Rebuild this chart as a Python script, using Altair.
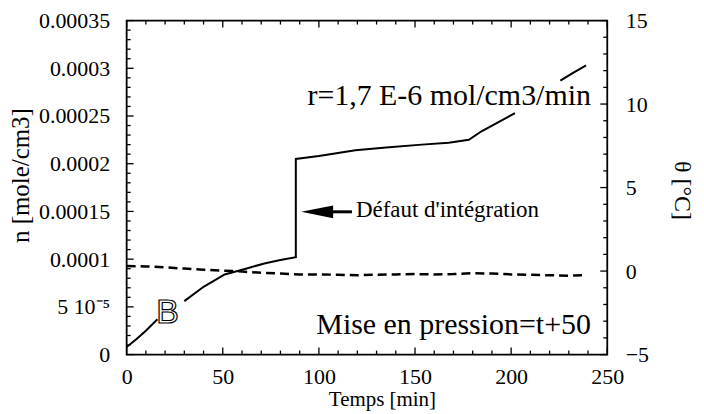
import altair as alt
import pandas as pd

# ---- data ----
# n [mole/cm3] vs time (solid curve); seg = visible pieces (gaps under "B" and the r= text)
n_t = [0, 5, 10, 16, 30, 40, 51, 62, 71.6, 80, 88, 88, 100, 119, 135, 153.5, 167.5, 178, 184.6, 192, 202, 225.6, 232, 239]
n_val = [8e-6, 1.6e-5, 2.5e-5, 3.7e-5, 5.6e-5, 7.1e-5, 8.4e-5, 9.0e-5, 9.55e-5, 9.9e-5, 1.02e-4, 2.05e-4,
         2.08e-4, 2.14e-4, 2.17e-4, 2.2e-4, 2.22e-4, 2.25e-4, 2.34e-4, 2.42e-4, 2.53e-4, 2.87e-4, 2.95e-4, 3.03e-4]
n_seg = [1, 1, 1, 1, 2, 2, 2, 2, 2, 2, 2, 2, 2, 2, 2, 2, 2, 2, 2, 2, 2, 3, 3, 3]

# temperature theta [°C] vs time (dashed curve)
th_t = [0, 10, 20, 30, 40, 50, 60, 70, 80, 90, 100, 110, 120, 130, 140, 150, 160, 170, 180, 190, 200, 210, 220, 230, 237]
th_val = [0.3, 0.28, 0.22, 0.15, 0.08, 0.03, -0.03, -0.1, -0.15, -0.2, -0.2, -0.22, -0.25, -0.22, -0.2, -0.18,
          -0.2, -0.18, -0.12, -0.15, -0.2, -0.22, -0.25, -0.28, -0.25]

# axes
x_major = [0, 50, 100, 150, 200, 250]
x_minor = [10, 20, 30, 40, 60, 70, 80, 90, 110, 120, 130, 140, 160, 170, 180, 190, 210, 220, 230, 240]
n_major = [0, 5e-5, 1e-4, 1.5e-4, 2e-4, 2.5e-4, 3e-4, 3.5e-4]
n_labels = ["0", "5 10\u207b\u2075", "0.0001", "0.00015", "0.0002", "0.00025", "0.0003", "0.00035"]
n_minor = [k * 1e-5 for k in range(36) if k % 5 != 0]
th_major = [-5, 0, 5, 10, 15]
th_minor = [k for k in range(-5, 16) if k % 5 != 0]

# annotations
rate_text = ["r=1,7 E-6 mol/cm3/min"]
rate_pos = [241.5, 2.61e-4]
press_text = ["Mise en pression=t+50"]
press_pos = [241.5, 2.18e-5]
defaut_text = ["D\u00e9faut d'int\u00e9gration"]
defaut_pos = [119.3, 1.444e-4]
arrow_head = [99.1, 1.496e-4]
arrow_shaft = [106.0, 117.2]
b_text = ["B"]
b_pos = [21.3, 4.57e-5]

W, H = 482, 335
FONT = "'Liberation Serif', 'Times New Roman', Times, serif"
TMAJ, TMIN = 7, 4

tscale = alt.Scale(domain=[0, 250], nice=False, zero=False)
nscale = alt.Scale(domain=[0, 0.00035], nice=False)
thscale = alt.Scale(domain=[-5, 15], nice=False)

def lbl_expr(vals, labels):
    expr = "''"
    for v, l in zip(vals, labels):
        expr = f"abs(datum.value - {v!r}) < 1e-9 ? '{l}' : ({expr})"
    return expr

AX_X = alt.Axis(
    values=x_major, ticks=False, domain=False, grid=False, labelFlush=False, labelOverlap=False,
    labelFont=FONT, labelFontSize=22, labelPadding=12, labelColor="black",
    title="Temps [min]", titleFont=FONT, titleFontSize=21, titleFontWeight="normal", titleColor="black",
    titleX=256, titleY=51, titleBaseline="alphabetic")
AX_N = alt.Axis(
    orient="left", values=n_major, ticks=False, domain=False, grid=False, labelOverlap=False,
    labelExpr=lbl_expr(n_major, n_labels),
    labelFont=FONT, labelFontSize=22, labelPadding=17, labelColor="black",
    title="n [mole/cm3]", titleFont=FONT, titleFontSize=25, titleFontWeight="normal", titleColor="black",
    titleX=-93, titleY=155)
AX_TH = alt.Axis(
    orient="right", values=th_major, ticks=False, domain=False, grid=False, labelOverlap=False,
    labelFont=FONT, labelFontSize=22, labelPadding=18, labelColor="black",
    title="\u03b8 [\u00b0C]", titleFont=FONT, titleFontSize=24, titleFontWeight="normal", titleColor="black",
    titleX=62, titleY=170)

ndf = pd.DataFrame({"t": n_t, "n": n_val, "seg": n_seg, "i": range(len(n_t))})
thdf = pd.DataFrame({"t": th_t, "th": th_val})

n_line = alt.Chart(ndf).mark_line(color="black", strokeWidth=2).encode(
    x=alt.X("t:Q", scale=tscale, axis=AX_X),
    y=alt.Y("n:Q", scale=nscale, axis=AX_N),
    detail="seg:N",
    order="i:Q",
)

def rules_y(vals, scale, ax, x0, x1):
    return alt.Chart(pd.DataFrame({"v": vals})).mark_rule(color="black", strokeWidth=1.3).encode(
        y=alt.Y("v:Q", scale=scale, axis=ax), x=alt.value(x0), x2=alt.value(x1))

def rules_x(vals, y0, y1):
    return alt.Chart(pd.DataFrame({"v": vals})).mark_rule(color="black", strokeWidth=1.3).encode(
        x=alt.X("v:Q", scale=tscale, axis=AX_X), y=alt.value(y0), y2=alt.value(y1))

def text_layer(txt, pos, size, align, font=FONT, **kw):
    df = pd.DataFrame({"label": txt, "t": [pos[0]], "n": [pos[1]]})
    return alt.Chart(df).mark_text(font=font, fontSize=size, align=align, baseline="alphabetic", **kw).encode(
        x=alt.X("t:Q", scale=tscale, axis=AX_X), y=alt.Y("n:Q", scale=nscale, axis=AX_N), text="label:N")

rate = text_layer(rate_text, rate_pos, 30, "right", color="black")
press = text_layer(press_text, press_pos, 30, "right", color="black")
defaut = text_layer(defaut_text, defaut_pos, 23, "left", color="black")
bmark = text_layer(b_text, b_pos, 34, "center", font="'Liberation Sans', Arial, sans-serif",
                   fill="white", stroke="black", strokeWidth=1.2, dy=12)

head = alt.Chart(pd.DataFrame({"t": [arrow_head[0]], "n": [arrow_head[1]]})).mark_point(
    shape="M-1,0L1,-0.4L1,0.4Z", size=1024, filled=True, color="black", opacity=1).encode(
    x=alt.X("t:Q", scale=tscale, axis=AX_X), y=alt.Y("n:Q", scale=nscale, axis=AX_N))
shaft = alt.Chart(pd.DataFrame({"t": [arrow_shaft[0]], "t2": [arrow_shaft[1]], "n": [arrow_head[1]]})).mark_rule(
    color="black", strokeWidth=3).encode(
    x=alt.X("t:Q", scale=tscale, axis=AX_X), x2="t2:Q", y=alt.Y("n:Q", scale=nscale, axis=AX_N))

n_group = alt.layer(
    n_line,
    rules_y(n_major, nscale, AX_N, 0, TMAJ), rules_y(n_minor, nscale, AX_N, 0, TMIN),
    rules_x(x_major, H, H - TMAJ), rules_x(x_minor, H, H - TMIN),
    rules_x(x_major, 0, TMAJ), rules_x(x_minor, 0, TMIN),
    shaft, head, defaut, rate, press, bmark,
)

th_line = alt.Chart(thdf).mark_line(color="black", strokeWidth=2.5, strokeDash=[9, 5]).encode(
    x=alt.X("t:Q", scale=tscale, axis=AX_X),
    y=alt.Y("th:Q", scale=thscale, axis=AX_TH),
)
th_group = alt.layer(th_line, rules_y(th_major, thscale, AX_TH, W - TMAJ, W),
                     rules_y(th_minor, thscale, AX_TH, W - TMIN, W))

chart = alt.layer(n_group, th_group).resolve_scale(y="independent").properties(
    width=W, height=H,
    padding={"left": 119, "top": 12, "right": 89, "bottom": 58},
    autosize=alt.AutoSizeParams(type="none"),
    background="white",
).configure_view(stroke="black", strokeWidth=1.8)

chart.save("out.html", embed_options={"renderer": "svg", "actions": False})
